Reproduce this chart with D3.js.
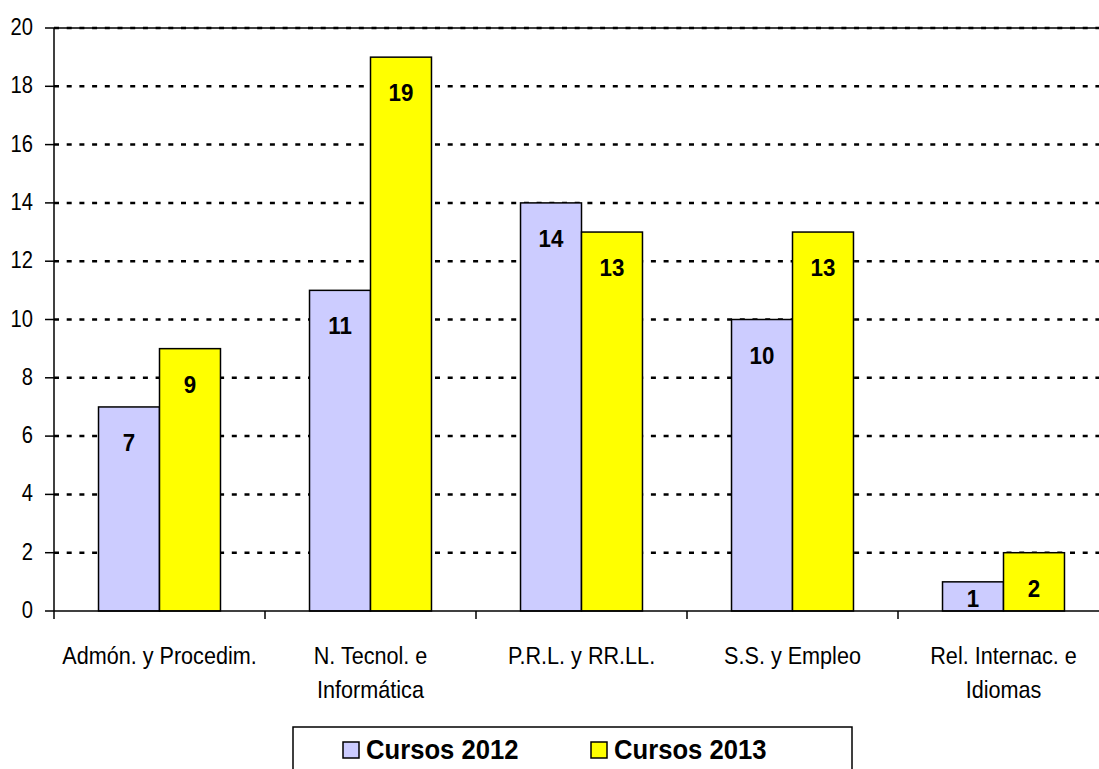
<!DOCTYPE html>
<html>
<head>
<meta charset="utf-8">
<script src="https://cdn.jsdelivr.net/npm/d3@7"></script>
<style>
  body { margin: 0; background: #fff; }
  svg { display: block; font-family: "Liberation Sans", Arial, sans-serif; }
</style>
</head>
<body>
<div id="chart"></div>
<script>
// data
const categories = [["Admón. y Procedim."], ["N. Tecnol. e", "Informática"], ["P.R.L. y RR.LL."], ["S.S. y Empleo"], ["Rel. Internac. e", "Idiomas"]]
const series = ["Cursos 2012", "Cursos 2013"]
const cursos2012 = [7, 11, 14, 10, 1]
const cursos2013 = [9, 19, 13, 13, 2]
const yTicks = [0, 2, 4, 6, 8, 10, 12, 14, 16, 18, 20]
const colors = ["#ccccff", "#ffff00"]

const width = 1099, height = 769
const margin = {top: 28, left: 54, bottom: 158}
const plotRight = margin.left + 1055

const svg = d3.select("#chart").append("svg")
  .attr("width", width)
  .attr("height", height)

// the original font is a narrow Arial, so squeeze text horizontally
function narrow(sel, x, y, sx) {
  sel.attr("transform", (d, i) => `translate(${x(d, i)},${y(d, i)}) scale(${sx},1)`)
}

const x = d3.scaleBand()
  .domain(d3.range(categories.length))
  .range([margin.left, plotRight])

const y = d3.scaleLinear()
  .domain([0, 20])
  .range([height - margin.bottom, margin.top])

const inner = d3.scaleBand()
  .domain([0, 1])
  .range([0, x.bandwidth()])
  .paddingOuter(0.73)
  .paddingInner(0)

// gridlines (dotted)
svg.append("g")
  .selectAll("line")
  .data(yTicks.filter(d => d > 0))
  .enter().append("line")
  .attr("x1", margin.left)
  .attr("x2", plotRight)
  .attr("y1", d => y(d))
  .attr("y2", d => y(d))
  .style("stroke", "#000")
  .style("stroke-width", 2.5)
  .style("stroke-dasharray", "5,7.7")

// top border line
svg.append("line")
  .attr("x1", margin.left).attr("x2", plotRight)
  .attr("y1", y(20)).attr("y2", y(20))
  .style("stroke", "#000").style("stroke-width", 1.5)

// bars
const rows = categories.map((c, i) => [cursos2012[i], cursos2013[i]])
const groups = svg.append("g")
  .selectAll("g")
  .data(rows)
  .enter().append("g")
  .attr("transform", (d, i) => `translate(${x(i)},0)`)

groups.selectAll("rect")
  .data(d => d)
  .enter().append("rect")
  .attr("x", (d, j) => inner(j))
  .attr("width", inner.bandwidth())
  .attr("y", d => y(d))
  .attr("height", d => y(0) - y(d))
  .attr("fill", (d, j) => colors[j])
  .style("stroke", "#000")
  .style("stroke-width", 1.5)

groups.selectAll("text")
  .data(d => d)
  .enter().append("text")
  .attr("text-anchor", "middle")
  .style("font-size", "24px")
  .style("font-weight", "bold")
  .call(narrow,
    (d, j) => inner(j) + inner.bandwidth() / 2,
    d => Math.min(y(d) + 44, y(0) - 4),
    0.93)
  .text(d => d)

// y axis
const yAxis = svg.append("g")
yAxis.append("line")
  .attr("x1", margin.left).attr("x2", margin.left)
  .attr("y1", y(20)).attr("y2", y(0) + 8)
  .style("stroke", "#000").style("stroke-width", 1.5)
yAxis.selectAll(".tick")
  .data(yTicks)
  .enter().append("line")
  .attr("x1", margin.left - 9).attr("x2", margin.left)
  .attr("y1", d => y(d)).attr("y2", d => y(d))
  .style("stroke", "#000").style("stroke-width", 1.5)
yAxis.selectAll("text")
  .data(yTicks)
  .enter().append("text")
  .attr("text-anchor", "end")
  .style("font-size", "24px")
  .call(narrow, d => 33, d => y(d) + 7, 0.84)
  .text(d => d)

// x axis
const xAxis = svg.append("g")
xAxis.append("line")
  .attr("x1", margin.left).attr("x2", plotRight)
  .attr("y1", y(0)).attr("y2", y(0))
  .style("stroke", "#000").style("stroke-width", 1.5)
xAxis.selectAll(".tick")
  .data(d3.range(1, categories.length + 1))
  .enter().append("line")
  .attr("x1", i => margin.left + i * x.step())
  .attr("x2", i => margin.left + i * x.step())
  .attr("y1", y(0)).attr("y2", y(0) + 8)
  .style("stroke", "#000").style("stroke-width", 1.5)

const catLabels = xAxis.selectAll("g")
  .data(categories)
  .enter().append("g")
catLabels.selectAll("text")
  .data((d, i) => d.map(line => ({line, i})))
  .enter().append("text")
  .attr("text-anchor", "middle")
  .style("font-size", "24px")
  .call(narrow, d => x(d.i) + x.bandwidth() / 2, (d, k) => 664 + k * 34, 0.9)
  .text(d => d.line)

// legend
const legend = svg.append("g")
legend.append("rect")
  .attr("x", 293).attr("y", 727)
  .attr("width", 559).attr("height", 60)
  .attr("fill", "#fff")
  .style("stroke", "#000").style("stroke-width", 1.5)

const legendX = [343, 591]
const item = legend.selectAll("g")
  .data(series)
  .enter().append("g")
  .attr("transform", (d, i) => `translate(${legendX[i]},742)`)
item.append("rect")
  .attr("width", 16).attr("height", 16)
  .attr("fill", (d, i) => colors[i])
  .style("stroke", "#000").style("stroke-width", 1.5)
item.append("text")
  .style("font-size", "27px")
  .style("font-weight", "bold")
  .call(narrow, d => 23, d => 17, 0.95)
  .text(d => d)
</script>
</body>
</html>
